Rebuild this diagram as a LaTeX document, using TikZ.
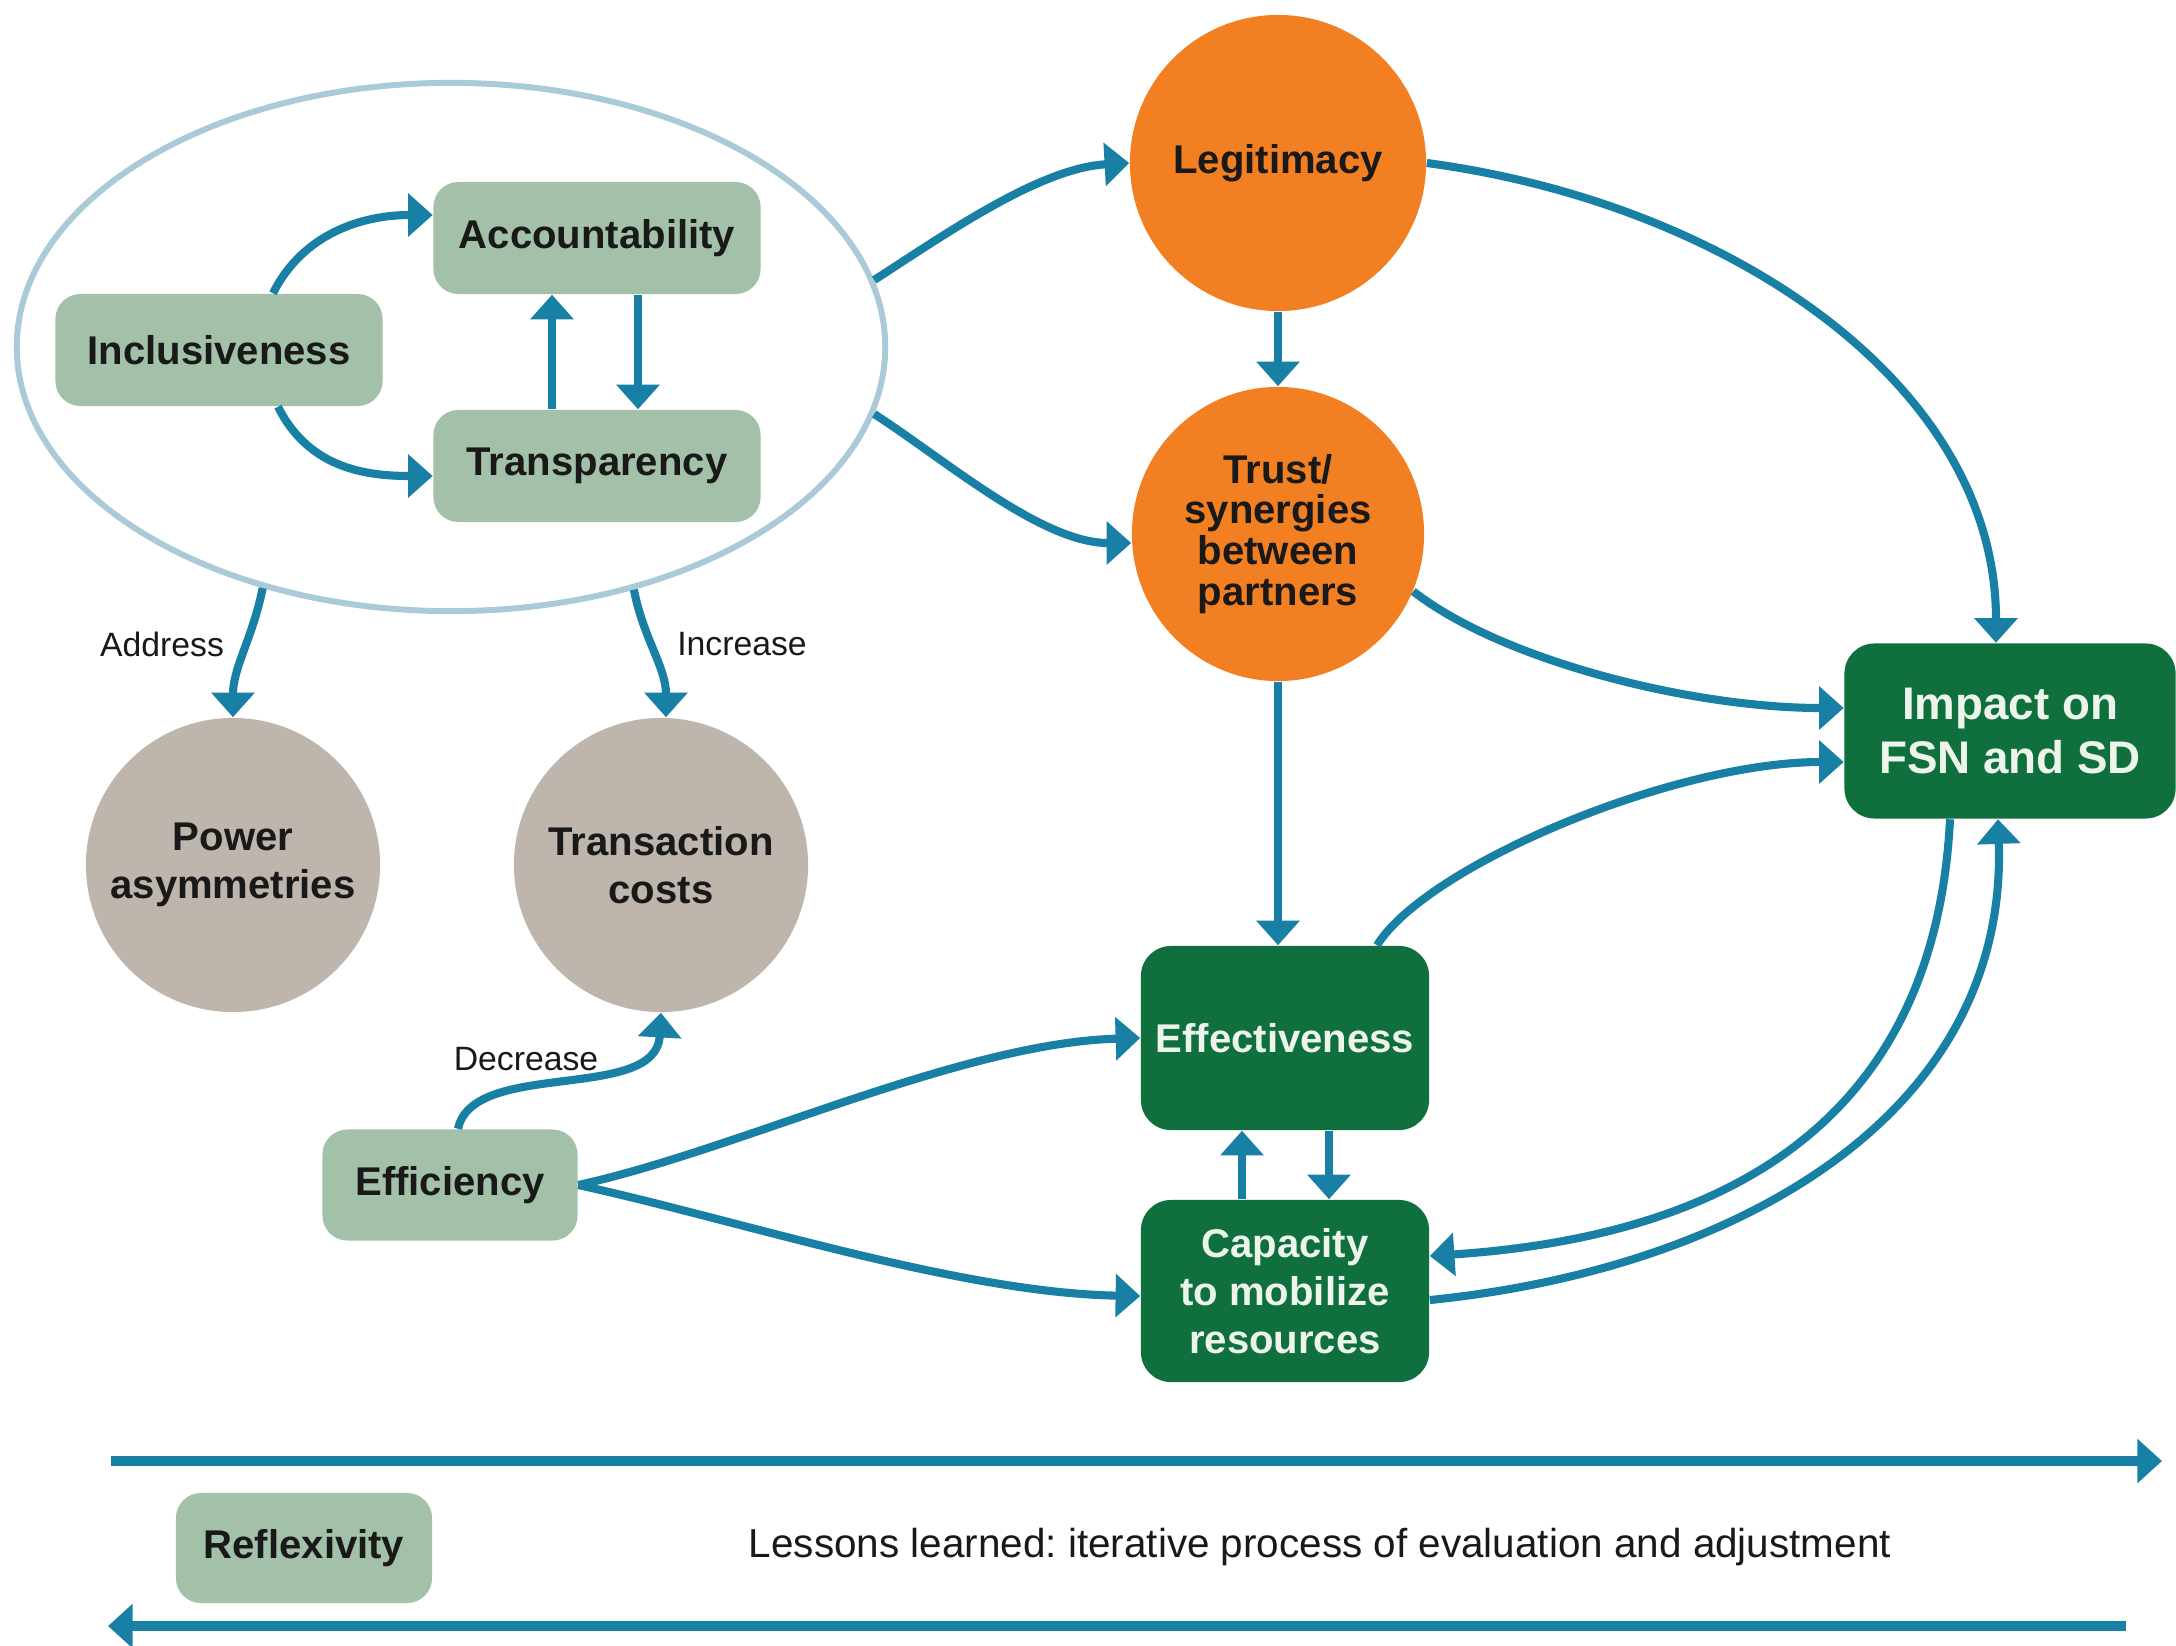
\documentclass[tikz,border=0pt]{standalone}
\usepackage{fontspec}
\setmainfont{Liberation Sans}
\usetikzlibrary{shapes.geometric,arrows.meta,calc}
\definecolor{arrowc}{RGB}{24,128,164}
\definecolor{sage}{RGB}{163,193,168}
\definecolor{dgreen}{RGB}{15,112,62}
\definecolor{orng}{RGB}{242,128,34}
\definecolor{greyfill}{RGB}{190,182,172}
\definecolor{ellc}{RGB}{170,202,216}
\definecolor{txt}{RGB}{25,25,25}
\definecolor{wtxt}{RGB}{236,244,236}
\frenchspacing
\begin{document}
\begin{tikzpicture}[x=0.01cm,y=-0.01cm,
  sagebox/.style={rectangle, rounded corners=0.25cm, fill=sage, inner sep=0pt,
    minimum width=3.27cm, minimum height=1.12cm, text=txt,
    font=\bfseries\fontsize{11.4}{13.6}\selectfont},
  greenbox/.style={rectangle, rounded corners=0.3cm, fill=dgreen, inner sep=0pt,
    align=center, text=wtxt, font=\bfseries\fontsize{11.4}{13.7}\selectfont},
  orangenode/.style={ellipse, fill=orng, inner sep=0pt, align=center, text=txt,
    minimum width=2.92cm, minimum height=2.96cm,
    font=\bfseries\fontsize{11.4}{11.6}\selectfont},
  greynode/.style={circle, fill=greyfill, inner sep=0pt, minimum size=2.94cm},
  greytext/.style={align=center, text=txt, inner sep=0pt,
    font=\bfseries\fontsize{11.4}{13.5}\selectfont},
  arr/.style={draw=arrowc, line width=2.3pt, -{Triangle[width=12pt,length=7pt]}},
  barr/.style={draw=arrowc, line width=2.85pt, -{Triangle[width=12.2pt,length=7pt]}},
  lab/.style={text=txt, font=\fontsize{9.6}{11}\selectfont, inner sep=0pt}
]
\fill[white] (0,0) rectangle (2176,1645);
\useasboundingbox (0,0) rectangle (2176,1645);

% big ellipse
\node[ellipse, draw=ellc, line width=1.7pt, minimum width=8.68cm, minimum height=5.28cm, inner sep=0pt] (ell) at (451,347) {};

% sage boxes
\node[sagebox] (inc) at (219,350) {Inclusiveness};
\node[sagebox] (acc) at (597,238) {Accountability};
\node[sagebox] (tra) at (597,466) {Transparency};
\node[sagebox, minimum width=2.55cm, minimum height=1.11cm] (efi) at (450,1185) {Efficiency};
\node[sagebox, minimum width=2.56cm, minimum height=1.10cm] (ref) at (304,1548) {Reflexivity};

% orange circles
\node[orangenode] (leg) at (1278,163) {Legitimacy};
\node[orangenode, minimum height=2.94cm] (tru) at (1278,534) {Trust/\\synergies\\between\\partners};

% grey circles
\node[greynode] (pow) at (233,865) {};
\node[greytext] (powt) at (pow.center) {Power\\asymmetries};
\node[greynode] (trc) at (661,865) {};
\node[greytext] (trct) at (trc.center) {Transaction\\costs};

% dark green boxes
\node[greenbox, minimum width=3.31cm, minimum height=1.75cm, font=\bfseries\fontsize{13}{15.4}\selectfont] (imp) at (2010,731) {Impact on\\FSN and SD};
\node[greenbox, minimum width=2.88cm, minimum height=1.84cm] (eff) at (1285,1038) {Effectiveness};
\node[greenbox, minimum width=2.88cm, minimum height=1.82cm] (cap) at (1285,1291) {Capacity\\to mobilize\\resources};

% lessons text
\node[text=txt, font=\fontsize{11.5}{13}\selectfont, inner sep=0pt] (les) at (1320,1547) {Lessons learned: iterative process of evaluation and adjustment};

% arrows inside ellipse
\draw[arr] ($(inc.north)+(54,0)$) .. controls +(30,-60) and +(-70,0) .. ($(acc.west)+(0,-23)$);
\draw[arr] ($(inc.south)+(59,0)$) .. controls +(30,60) and +(-70,0) .. ($(tra.west)+(0,10)$);
\draw[arr] ($(tra.north)+(-45,0)$) -- ($(acc.south)+(-45,0)$);
\draw[arr] ($(acc.south)+(41,0)$) -- ($(tra.north)+(41,0)$);

% ellipse to orange
\draw[arr] (ell.9) .. controls +(70,-45) and +(-90,5) .. (leg.west);
\draw[arr] (ell.-9) .. controls +(70,45) and +(-90,0) .. ($(tru.west)+(0,9)$);
\draw[arr] (leg.south) -- (tru.north);

% to impact
\draw[arr] (leg.east) .. controls +(300,40) and +(0,-260) .. ($(imp.north)+(-14,0)$);
\draw[arr] (tru.-23) .. controls +(90,70) and +(-150,0) .. ($(imp.west)+(0,-23)$);
\draw[arr] (tru.south) -- (tru.south |- eff.north);
\draw[arr] ($(eff.north)+(92,0)$) .. controls +(50,-80) and +(-170,0) .. ($(imp.west)+(0,31)$);
\draw[arr] ($(imp.south)+(-60,0)$) .. controls +(-15,300) and +(300,-20) .. ($(cap.east)+(0,-35)$);
\draw[arr] ($(cap.east)+(0,9)$) .. controls +(300,-30) and +(10,300) .. ($(imp.south)+(-12,0)$);

% effectiveness / capacity
\draw[arr] ($(cap.north)+(-43,0)$) -- ($(eff.south)+(-43,0)$);
\draw[arr] ($(eff.south)+(44,0)$) -- ($(cap.north)+(44,0)$);

% efficiency
\draw[arr] (efi.east) .. controls +(160,-35) and +(-180,5) .. (eff.west);
\draw[arr] (efi.east) .. controls +(160,35) and +(-180,-3) .. ($(cap.west)+(0,5)$);
\draw[arr] ($(efi.north)+(8,0)$) .. controls +(15,-70) and +(-5,90) .. (trc.south);

% ellipse to grey circles
\draw[arr] (ell.-128) .. controls +(-10,50) and +(0,-50) .. (pow.north);
\draw[arr] (ell.-53) .. controls +(10,50) and +(0,-50) .. ($(trc.north)+(5,0)$);

% labels
\node[lab] (laddr) at (162,644) {Address};
\node[lab] (lincr) at (742,644) {Increase};
\node[lab] (ldecr) at (526,1059) {Decrease};

% bottom arrows
\coordinate (r1) at (111,1461);
\coordinate (r2) at (2162,1461);
\coordinate (l1) at (2126,1626);
\coordinate (l2) at (108,1626);
\draw[barr] (r1) -- (r2);
\draw[barr] (l1) -- (l2);
\end{tikzpicture}
\end{document}
